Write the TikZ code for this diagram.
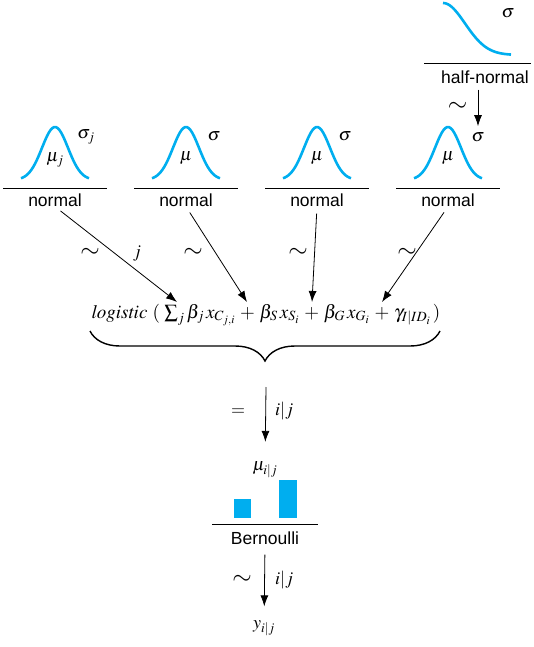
\documentclass[tikz,border=0pt]{standalone}
\usepackage{mathptmx}
\usepackage[no-math]{fontspec}
\setmainfont{Liberation Sans}
\usetikzlibrary{arrows.meta,positioning,decorations.pathreplacing}
\definecolor{densblue}{RGB}{0,174,239}

\begin{document}
\begin{tikzpicture}[x=1pt,y=-1pt,>={Latex[length=11pt,width=8pt]}, every node/.style={font=\fontsize{17.5}{20}\selectfont, inner sep=0pt}]
\tikzstyle{dens}=[densblue, line width=2.6pt]
\tikzstyle{bar}=[fill=densblue, draw=none]
\tikzstyle{rule}=[line width=0.9pt]
\tikzstyle{arr}=[->, line width=0.8pt]
\tikzstyle{sym}=[font=\fontsize{18}{20}\selectfont]
\tikzstyle{tld}=[font=\fontsize{25}{25}\selectfont]
\useasboundingbox (0,0) rectangle (533,647);

% half-normal prior on sigma
\draw[dens] plot[domain=0:68,samples=40] ({443+\x},{55-52*exp(-\x*\x/(2*22*22))});
\node[sym] (sh) at (508,13) {$\sigma$};
\draw[rule] (424,63) -- (531,63);
\node (hn) at (485,77) {half-normal};

% the four normal priors
\draw[dens] plot[domain=-34:34,samples=40] ({55+\x},{180-53*exp(-\x*\x/(2*13*13))});
\draw[dens] plot[domain=-34:34,samples=40] ({186+\x},{180-53*exp(-\x*\x/(2*13*13))});
\draw[dens] plot[domain=-34:34,samples=40] ({317+\x},{180-53*exp(-\x*\x/(2*13*13))});
\draw[dens] plot[domain=-34:34,samples=40] ({448+\x},{180-53*exp(-\x*\x/(2*13*13))});
\node[sym] (m1) at (55,160) {$\mu_j$};
\node[sym] (s1) at (86,137) {$\sigma_j$};
\node[sym] (m2) at (186,158) {$\mu$};
\node[sym] (s2) at (214,136) {$\sigma$};
\node[sym] (m3) at (317,158) {$\mu$};
\node[sym] (s3) at (345,136) {$\sigma$};
\node[sym] (m4) at (448,158) {$\mu$};
\node[sym] (s4) at (478,137) {$\sigma$};
\draw[rule] (3,188) -- (107,188);
\draw[rule] (134,188) -- (238,188);
\draw[rule] (265,188) -- (369,188);
\draw[rule] (396,188) -- (500,188);
\node (n1) at (55,200) {normal};
\node (n2) at (186,200) {normal};
\node (n3) at (317,200) {normal};
\node (n4) at (448,200) {normal};

\draw[arr, shorten <=6pt, shorten >=6pt] (s4 |- hn.south) -- (s4);
\node[tld, left=4pt of s4, yshift=30pt] (th) {$\sim$};

% linear predictor
\node[font=\fontsize{19}{20}\selectfont, anchor=base] (lin) at (266,318) {$\mathit{logistic}\ (\;\textstyle\sum_j \beta_j\, x_{C_{j,i}} \,+\, \beta_S\, x_{S_i} \,+\, \beta_G\, x_{G_i} \,+\, \gamma_{I|ID_i}\,)$};
\coordinate (t1) at (177,302);
\coordinate (t2) at (247,302);
\coordinate (t3) at (312,302);
\coordinate (t4) at (382,302);
\draw[arr, shorten <=7pt] (n1.south) -- (t1);
\draw[arr, shorten <=7pt] (n2.south) -- (t2);
\draw[arr, shorten <=7pt] (n3.south) -- (t3);
\draw[arr, shorten <=7pt] (n4.south) -- (t4);
\node[tld] (t1l) at (90,253) {$\sim$};
\node[sym] (jl) at (137,254) {$j$};
\node[tld] (t2l) at (193,253) {$\sim$};
\node[tld] (t3l) at (298,253) {$\sim$};
\node[tld] (t4l) at (407,253) {$\sim$};

\draw[decorate, decoration={brace, mirror, amplitude=30pt, aspect=0.5}, line width=1.4pt] (90,331) -- (440,331);
\coordinate (bt) at (266,387);

% Bernoulli likelihood
\node[sym] (mu) at (265,470) {$\mu_{i|j}$};
\draw[arr, shorten >=20pt] (bt) -- (mu);
\node[sym] (eq) at (238,412) {$=$};
\node[sym, anchor=west] (ij1) at (275,411) {$i|j$};
\fill[bar] (234,499) rectangle (251,518);
\fill[bar] (279,480) rectangle (297,518);
\draw[rule] (212,524) -- (318,524);
\node (be) at (265,538) {Bernoulli};

\node[sym] (y) at (264,628) {$y_{i|j}$};
\draw[arr, shorten <=10pt, shorten >=14pt] (be.south) -- (y);
\node[tld] (tb) at (242,580) {$\sim$};
\node[sym, anchor=west] (ij2) at (275,580) {$i|j$};
\end{tikzpicture}
\end{document}
